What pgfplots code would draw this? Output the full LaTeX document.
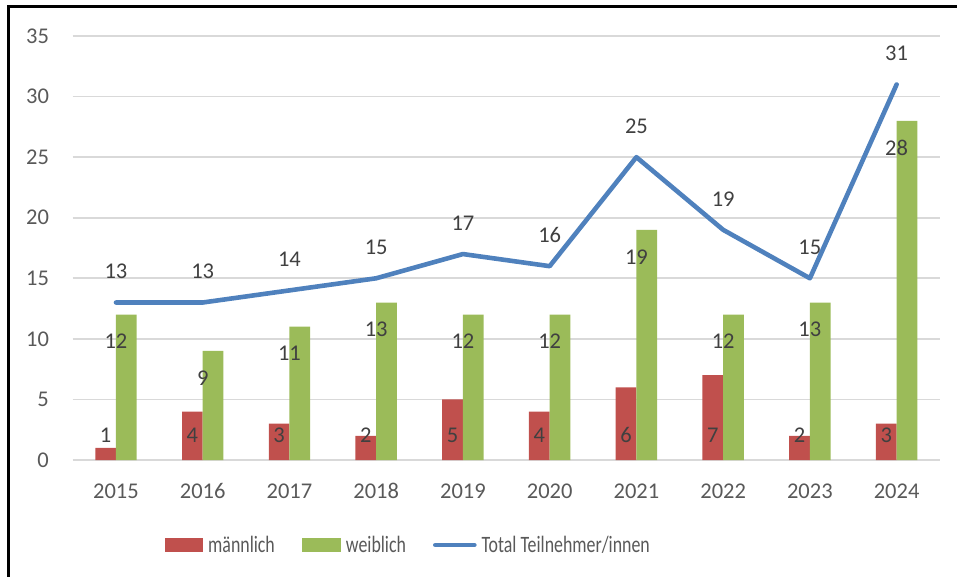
\documentclass[border=0pt]{standalone}
\usepackage{fontspec}
\setmainfont{Carlito}
\newfontfamily\legendfont[FakeStretch=0.76]{Carlito}
\usepackage{pgfplots}
\usepackage{pgfplotstable}
\pgfplotsset{compat=1.18}
\definecolor{mred}{HTML}{C0504D}
\definecolor{mgreen}{HTML}{9BBB59}
\definecolor{mblue}{HTML}{4F81BD}
\definecolor{tickgray}{HTML}{595959}
\definecolor{labgray}{HTML}{404040}
\definecolor{gridgray}{HTML}{D9D9D9}
\pgfplotstableread{
x m w t
0 1 12 13
1 4 9 13
2 3 11 14
3 2 13 15
4 5 12 17
5 4 12 16
6 6 19 25
7 7 12 19
8 2 13 15
9 3 28 31
}\datatable
\newcommand{\lblfont}{\fontsize{22.5bp}{27bp}\selectfont}
\newcommand{\legfont}{\fontsize{23.5bp}{28bp}\selectfont}
\begin{document}
\begin{tikzpicture}
\begin{axis}[
  at={(72.6bp,117bp)}, anchor=south west,
  scale only axis, width=867.4bp, height=424bp,
  xmin=-0.5, xmax=9.5, ymin=0, ymax=35,
  clip=false,
  /pgf/number format/assume math mode=true,
  axis line style={draw=none},
  ytick={0,5,...,35},
  xtick={0,...,9},
  xticklabels={2015,2016,2017,2018,2019,2020,2021,2022,2023,2024},
  major tick length=0pt,
  ymajorgrids,
  grid style={gridgray, line width=1.6bp},
  tick label style={font=\lblfont, text=tickgray},
  yticklabel style={anchor=east, inner sep=0pt, xshift=-23.5bp},
  xticklabel style={anchor=center, inner sep=0pt, yshift=-31bp},
  legend columns=3,
  legend style={draw=none, fill=none, inner sep=0pt,
    at={(axis description cs:0.1065,-0.2005)}, anchor=west,
    font=\legendfont\legfont, text=tickgray,
    nodes={inner sep=0pt},
    /tikz/every odd column/.append style={column sep=5bp},
    /tikz/every even column/.append style={column sep=27bp}},
  legend cell align=left,
]
\addplot[ybar, bar width=20.7bp, bar shift=-10.35bp, fill=mred, draw=none,
  legend image code/.code={\fill[mred] (0bp,-7bp) rectangle (38bp,7bp);}]
  table[x=x, y=m] {\datatable};
\addlegendentry{männlich}
\addplot[ybar, bar width=20.7bp, bar shift=10.35bp, fill=mgreen, draw=none,
  nodes near coords,
  every node near coord/.style={anchor=center, yshift=-27bp, font=\lblfont, text=labgray},
  legend image code/.code={\fill[mgreen] (0bp,-7bp) rectangle (39bp,7bp);}]
  table[x=x, y=w] {\datatable};
\addlegendentry{weiblich}
\addplot[draw=none, mark=none, forget plot, nodes near coords, point meta=\thisrow{m},
  every node near coord/.style={anchor=center, xshift=-10.35bp, yshift=25bp, font=\lblfont, text=labgray}]
  table[x=x, y expr=0] {\datatable};
\addplot[mblue, line width=4.6bp, line cap=round, line join=round, mark=none,
  nodes near coords,
  every node near coord/.style={anchor=center, yshift=31bp, font=\lblfont, text=labgray},
  legend image code/.code={\draw[mblue, line width=4.6bp, line cap=round] (-2bp,0bp) -- (37bp,0bp);}]
  table[x=x, y=t] {\datatable};
\addlegendentry{Total Teilnehmer/innen}
\end{axis}
\draw[black, line width=2.6bp] (8.5bp,-2bp) -- (8.5bp,570.5bp) -- (960bp,570.5bp);
\pgfresetboundingbox
\useasboundingbox (0,0) rectangle (957bp,577bp);
\end{tikzpicture}
\end{document}
